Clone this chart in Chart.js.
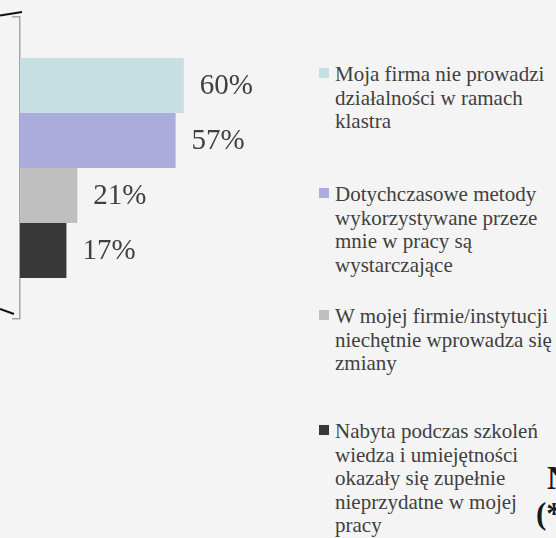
<!DOCTYPE html>
<html>
<head>
<meta charset="utf-8">
<script src="https://cdn.jsdelivr.net/npm/chart.js@4/dist/chart.umd.min.js"></script>
<style>
  html, body { margin: 0; padding: 0; }
  body { width: 556px; height: 538px; background: #f4f4f4; overflow: hidden; position: relative;
         font-family: "Liberation Serif", "Times New Roman", serif; }
  #wrap { position: absolute; left: 0; top: 0; width: 300px; height: 330px; }
  #legend { position: absolute; left: 319px; top: 0; }
  .item { position: absolute; left: 0; white-space: nowrap; font-size: 21px; line-height: 23.5px; color: #404040; }
  .item .box { position: absolute; left: 0; top: 5px; width: 10px; height: 10px; }
  .item .txt { margin-left: 16px; }
  .cut { position: absolute; font-weight: bold; color: #1a1a1a; white-space: nowrap; }
</style>
</head>
<body>
<svg width="556" height="538" style="position:absolute;left:0;top:0">
  <line x1="0" y1="15.5" x2="22" y2="12" stroke="#111" stroke-width="2"/>
  <line x1="0" y1="309" x2="14" y2="314" stroke="#111" stroke-width="2"/>
</svg>
<div id="wrap"><canvas id="chart"></canvas></div>
<div id="legend"></div>
<span class="cut" style="left:547px;top:460px;font-size:33px">N</span>
<span class="cut" style="left:536px;top:496px;font-size:31px">(*</span>
<script>
// etykiety i wartości (procenty)
const labels = [
  ["Moja firma nie prowadzi", "działalności w ramach", "klastra"],
  ["Dotychczasowe metody", "wykorzystywane przeze", "mnie w pracy są", "wystarczające"],
  ["W mojej firmie/instytucji", "niechętnie wprowadza się", "zmiany"],
  ["Nabyta podczas szkoleń", "wiedza i umiejętności", "okazały się zupełnie", "nieprzydatne w mojej", "pracy"]
];
const values = [60, 57, 21, 17];
const colors = ["#c5dfe2", "#abacdc", "#bfbfbf", "#383838"];
const legendTops = [63, 183, 305, 420];

const valueLabels = {
  id: 'valueLabels',
  afterDatasetsDraw(chart) {
    const ctx = chart.ctx;
    ctx.save();
    ctx.font = '29px "Liberation Serif", "Times New Roman", serif';
    ctx.fillStyle = '#404040';
    ctx.textAlign = 'left';
    ctx.textBaseline = 'middle';
    chart.data.datasets.forEach((ds, i) => {
      const el = chart.getDatasetMeta(i).data[0];
      ctx.fillText(ds.data[0] + '%', el.x + 16, el.y + 1);
    });
    ctx.restore();
  }
};

new Chart(document.getElementById('chart'), {
  type: 'bar',
  data: {
    labels: [''],
    datasets: values.map((v, i) => ({
      label: labels[i].join(' '),
      data: [v],
      backgroundColor: colors[i],
      borderWidth: 0,
      barPercentage: 1,
      categoryPercentage: 0.728
    }))
  },
  options: {
    indexAxis: 'y',
    responsive: true,
    maintainAspectRatio: false,
    animation: false,
    layout: { padding: { top: 17, bottom: 11, left: 0, right: 7 } },
    scales: {
      x: { display: false, min: 0, max: 100 },
      y: {
        afterFit(scale) { scale.width = 20; },
        border: { color: '#a6a6a6', width: 1.5 },
        grid: { drawOnChartArea: false, tickLength: 8, color: '#a6a6a6', lineWidth: 1.5, offset: true },
        ticks: { display: false }
      }
    },
    plugins: {
      legend: { display: false },
      tooltip: { enabled: false }
    }
  },
  plugins: [valueLabels]
});

// legenda w HTML (wielowierszowa)
const leg = document.getElementById('legend');
labels.forEach((lines, i) => {
  const d = document.createElement('div');
  d.className = 'item';
  d.style.top = legendTops[i] + 'px';
  d.innerHTML = '<span class="box" style="background:' + colors[i] + '"></span><div class="txt">' + lines.join('<br>') + '</div>';
  leg.appendChild(d);
});
</script>
</body>
</html>
